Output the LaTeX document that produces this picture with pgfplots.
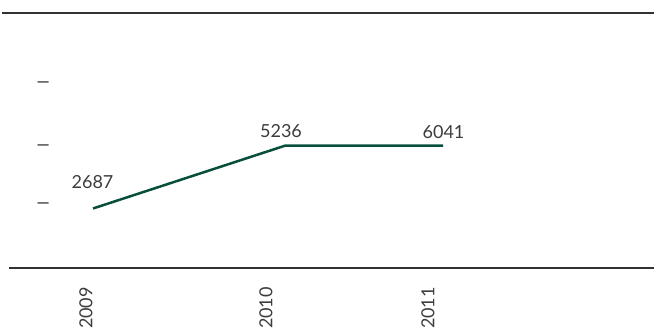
\documentclass[border=0pt]{standalone}
\usepackage{fontspec}
\setmainfont{Lato}
\newfontfamily\dashfont{Liberation Sans}
\usepackage{pgfplots}
\pgfplotsset{compat=1.18}
\definecolor{linegreen}{RGB}{8,78,60}
\definecolor{txt}{RGB}{60,60,60}
\definecolor{rule}{RGB}{50,50,50}
\begin{document}
\begin{tikzpicture}
\useasboundingbox (0,0) rectangle (654pt,328pt);
\begin{axis}[
  at={(0pt,60pt)}, anchor=south west,
  width=654pt, height=255pt, scale only axis,
  xmin=0, xmax=654, ymin=0, ymax=255,
  axis line style={draw=none},
  major tick length=0pt,
  xtick={86,266,428}, xticklabels={2009,2010,2011},
  xticklabel style={inner sep=0pt, yshift=-19pt, rotate=90, anchor=east},
  ytick={63.7,122,184.7}, yticklabels={–,–,–\hspace{5.5pt}},
  yticklabel style={inner sep=0pt, anchor=east, xshift=49pt, yshift=-1.5pt, font=\dashfont\fontsize{20}{22}\selectfont},
  xticklabel style={font=\fontsize{18}{20}\selectfont},
  tick label style={text=txt},
  clip=false,
]
  % value line
  \addplot[linegreen, line width=2.5pt] coordinates {
    (93,59.5) (285,122.3) (443,122.3)
  };
  % value labels
  \addplot[draw=none, mark=none, nodes near coords, point meta=explicit symbolic,
    nodes near coords style={anchor=center, font=\fontsize{18}{20}\selectfont, text=txt}]
    coordinates {
    (92.5,86) [2687]
    (281,136.5) [5236]
    (443.5,136) [6041]
  };
  \draw[rule, line width=1.8pt] (axis cs:2,255) -- (axis cs:654,255);
  \draw[rule, line width=1.3pt] (axis cs:9,0) -- (axis cs:654,0);
\end{axis}
\end{tikzpicture}
\end{document}
